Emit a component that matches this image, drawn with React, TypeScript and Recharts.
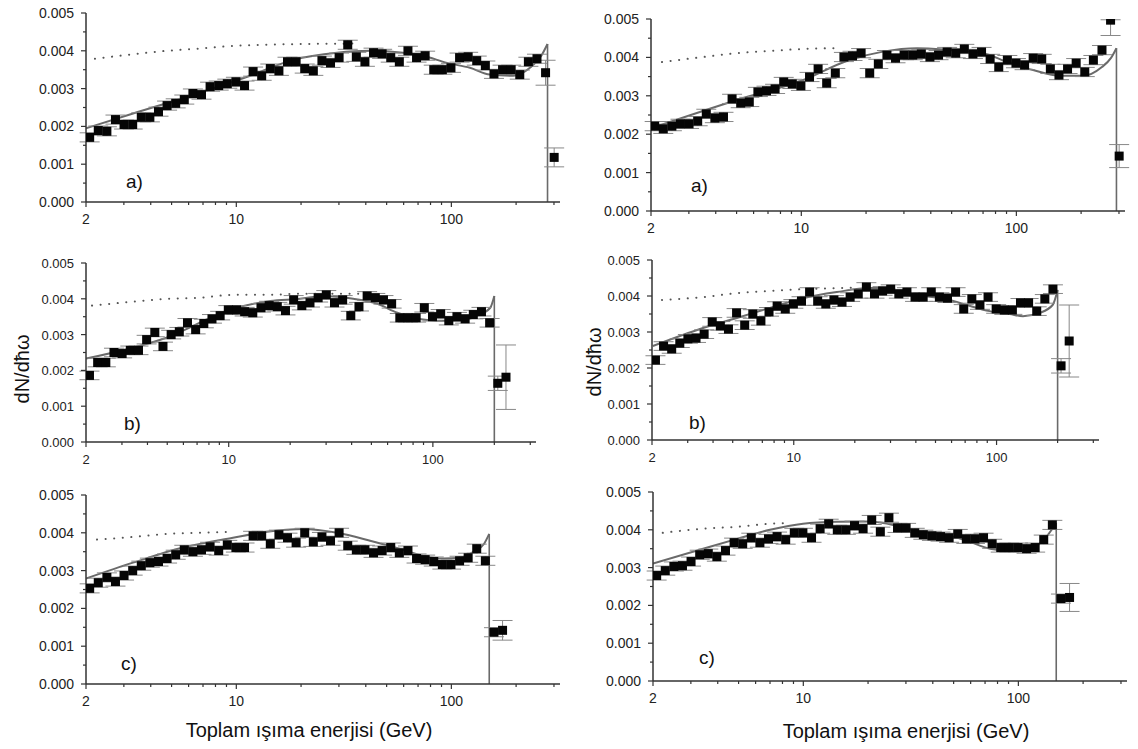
import React from "react";
import { ComposedChart, XAxis, YAxis, Scatter, Line, ErrorBar, ReferenceLine } from "recharts";

const FONT = '"Liberation Sans", Arial, Helvetica, sans-serif';
const AXIS = "#333";
const CURVE = "#6a6a6a";

// energy bins (GeV), equal steps in log, shared by all panels
const BIN_E = [
  2.08, 2.281, 2.501, 2.742, 3.006, 3.297, 3.615, 3.963, 4.346, 4.765,
  5.225, 5.729, 6.282, 6.888, 7.552, 8.281, 9.08, 9.956, 10.92, 11.97,
  13.12, 14.39, 15.78, 17.3, 18.97, 20.8, 22.81, 25.01, 27.42, 30.06,
  32.97, 36.15, 39.63, 43.46, 47.65, 52.25, 57.29, 62.82, 68.88, 75.52,
  82.81, 90.8, 99.56, 109.2, 119.7, 131.2, 143.9, 157.8, 173.0, 189.7,
  208.0, 228.1, 250.1, 274.2, 300.6,
];

const X_TICKS = [2, 3, 4, 5, 6, 7, 8, 9, 10, 20, 30, 40, 50, 60, 70, 80, 90, 100, 200, 300];
const X_LABELS = [2, 10, 100];
const Y_TICKS = [0, 0.0005, 0.001, 0.0015, 0.002, 0.0025, 0.003, 0.0035, 0.004, 0.0045, 0.005];
const X_MAX = 320;
const DEFAULT_ERR = 0.00012;

// a) left
const aLeftY = [
  0.00171, 0.00189, 0.00187, 0.00218, 0.00205, 0.00205, 0.00224, 0.00224, 0.00239, 0.00255,
  0.00261, 0.00271, 0.00287, 0.00284, 0.00305, 0.00308, 0.00313, 0.00318, 0.00308, 0.00345,
  0.00334, 0.00353, 0.00347, 0.00371, 0.00371, 0.00353, 0.00347, 0.00374, 0.00368, 0.00382,
  0.00416, 0.00384, 0.00371, 0.00395, 0.00392, 0.00382, 0.00371, 0.004, 0.00382, 0.00387,
  0.0035, 0.0035, 0.00355, 0.00382, 0.00384, 0.00374, 0.00361, 0.00339, 0.0035, 0.0035,
  0.00337, 0.00371, 0.00379, 0.00342, 0.00118,
];
const aLeftBigErr: [number, number | number[]][] = [[53, 0.00033], [54, 0.00025]];
const aLeftCurve = [
  [2, 0.00195], [3.31, 0.00234], [6.78, 0.00289], [11.6, 0.00334], [18.4, 0.00376],
  [29.4, 0.00395], [41.9, 0.004], [59.6, 0.00395], [73.9, 0.00387], [95.4, 0.00368],
  [122, 0.00355], [151, 0.00337], [194, 0.00334], [232, 0.00355], [262, 0.00387], [280, 0.00418],
];
const aLeftDotted = [
  [2.2, 0.00379], [3.31, 0.00391], [4.76, 0.004], [6.78, 0.00406], [9.65, 0.00413],
  [13.9, 0.00416], [19.8, 0.00418], [34.9, 0.00419],
];

// a) right
const aRightY = [
  0.00221, 0.00214, 0.00221, 0.00227, 0.00227, 0.00234, 0.00253, 0.00242, 0.00245, 0.00292,
  0.00281, 0.00284, 0.0031, 0.00313, 0.00318, 0.00336, 0.00331, 0.00326, 0.00349, 0.0037,
  0.00333, 0.00359, 0.00401, 0.00404, 0.00411, 0.00359, 0.00383, 0.00406, 0.00398, 0.00406,
  0.00406, 0.00409, 0.00401, 0.00406, 0.00414, 0.00411, 0.00422, 0.00409, 0.00414, 0.00396,
  0.00375, 0.00393, 0.00385, 0.0038, 0.00398, 0.00396, 0.0037, 0.00354, 0.0037, 0.00385,
  0.00362, 0.00393, 0.00419, 0.00497, 0.00143,
];
const aRightBigErr: [number, number | number[]][] = [[53, [0.0004, 0.00001]], [54, 0.0003]];
const aRightCurve = [
  [2.02, 0.00216], [5.02, 0.00289], [10.2, 0.00341], [16.5, 0.00392], [24.0, 0.00415],
  [34.5, 0.00424], [49.2, 0.00419], [70.0, 0.00411], [90.6, 0.00388], [119.6, 0.00367],
  [159.7, 0.00352], [204, 0.00352], [250, 0.00375], [275, 0.00398], [292, 0.00424],
];
const aRightDotted = [
  [2.25, 0.00388], [3.49, 0.00401], [5.0, 0.00411], [7.2, 0.00417], [10.2, 0.00422], [14.6, 0.00424],
];

// b) left
const bLeftY = [
  0.00186, 0.00222, 0.00222, 0.0025, 0.00247, 0.00256, 0.00256, 0.00286, 0.00306, 0.00267,
  0.003, 0.00308, 0.00333, 0.00314, 0.00331, 0.00344, 0.00353, 0.00369, 0.00369, 0.00364,
  0.00361, 0.00375, 0.00381, 0.00378, 0.00367, 0.00397, 0.00381, 0.00389, 0.00403, 0.00411,
  0.00389, 0.00397, 0.00353, 0.00378, 0.00408, 0.00403, 0.00397, 0.00386, 0.00347, 0.00347,
  0.00347, 0.00375, 0.0035, 0.00358, 0.00339, 0.0035, 0.00344, 0.00356, 0.00364, 0.00333,
  0.00164, 0.00181,
];
const bLeftBigErr: [number, number | number[]][] = [[50, 0.0002], [51, 0.0009]];
const bLeftCurve = [
  [2, 0.00233], [4.99, 0.00292], [10.5, 0.00372], [15.96, 0.00394], [22.4, 0.004],
  [29.0, 0.00408], [40.7, 0.004], [53.4, 0.00386], [67.0, 0.00361], [83.9, 0.00344],
  [105, 0.00339], [136, 0.00339], [165, 0.00353], [191, 0.00375], [200, 0.00408],
];
const bLeftDotted = [
  [2.14, 0.00381], [3.39, 0.00392], [4.99, 0.004], [7.2, 0.00403], [10.5, 0.00411],
  [15.4, 0.00411], [22.4, 0.00414], [44, 0.00414],
];

// b) right
const bRightY = [
  0.00222, 0.00261, 0.00253, 0.00269, 0.00281, 0.00283, 0.00294, 0.00328, 0.00317, 0.00308,
  0.00353, 0.00319, 0.0035, 0.00331, 0.00356, 0.00372, 0.00364, 0.00378, 0.00386, 0.00411,
  0.00386, 0.00378, 0.00389, 0.00383, 0.00397, 0.00406, 0.00425, 0.00406, 0.00414, 0.00419,
  0.00406, 0.00411, 0.00397, 0.00397, 0.00411, 0.00397, 0.00394, 0.00411, 0.00364, 0.00392,
  0.00375, 0.00397, 0.00364, 0.00361, 0.00361, 0.00381, 0.00381, 0.00358, 0.00392, 0.00419,
  0.00206, 0.00275,
];
const bRightBigErr: [number, number | number[]][] = [[50, 0.0002], [51, 0.001]];
const bRightCurve = [
  [2.02, 0.00261], [3.57, 0.00311], [5.24, 0.00339], [7.62, 0.00367], [11.1, 0.00394],
  [16.3, 0.00411], [23.7, 0.00422], [27.5, 0.00422], [40.4, 0.00403], [58.8, 0.00389],
  [71.3, 0.00375], [92.5, 0.00358], [116, 0.0035], [135, 0.00344], [163, 0.00353],
  [189, 0.00375], [200, 0.00417],
];
const bRightDotted = [
  [2.24, 0.00389], [3.57, 0.00397], [5.24, 0.00408], [7.62, 0.00414], [11.1, 0.00419],
  [16.3, 0.00422], [20, 0.00423],
];

// c) left
const cLeftY = [
  0.00253, 0.00268, 0.00282, 0.00271, 0.00287, 0.003, 0.00313, 0.00321, 0.00324, 0.00332,
  0.00342, 0.00355, 0.0035, 0.00355, 0.00363, 0.00353, 0.00368, 0.00361, 0.00361, 0.00392,
  0.00392, 0.00371, 0.00395, 0.00387, 0.00374, 0.004, 0.00376, 0.00389, 0.00379, 0.004,
  0.00366, 0.00355, 0.00355, 0.00347, 0.00353, 0.00361, 0.00347, 0.00353, 0.00332, 0.00329,
  0.00324, 0.00316, 0.00316, 0.00326, 0.00334, 0.00358, 0.00326, 0.00137, 0.00142,
];
const cLeftBigErr: [number, number | number[]][] = [[47, 0.00012], [48, 0.00026]];
const cLeftCurve = [
  [2, 0.00279], [3.31, 0.00321], [5.64, 0.00361], [9.65, 0.00387], [13.9, 0.00403],
  [20.5, 0.0041], [29.4, 0.004], [41.9, 0.00379], [59.6, 0.00355], [73.9, 0.00339],
  [91.8, 0.00332], [110, 0.00334], [127, 0.0035], [142, 0.00371], [150, 0.00397],
];
const cLeftDotted = [
  [2.25, 0.00382], [3.31, 0.00389], [4.76, 0.00397], [6.78, 0.004], [9.65, 0.00403],
];

// c) right
const cRightY = [
  0.00279, 0.00292, 0.00303, 0.00305, 0.00316, 0.00334, 0.00337, 0.00329, 0.00345, 0.00366,
  0.00363, 0.00379, 0.00366, 0.00376, 0.00382, 0.00374, 0.00392, 0.00392, 0.00379, 0.00403,
  0.00416, 0.004, 0.004, 0.00411, 0.00403, 0.00426, 0.00395, 0.00432, 0.00405, 0.00405,
  0.00392, 0.00387, 0.00384, 0.00382, 0.00379, 0.00389, 0.00376, 0.00376, 0.00379, 0.00363,
  0.00353, 0.00353, 0.00353, 0.0035, 0.00353, 0.00374, 0.00413, 0.00218, 0.00221,
];
const cRightBigErr: [number, number | number[]][] = [[47, 0.00012], [48, 0.00037]];
const cRightCurve = [
  [2, 0.00311], [3.42, 0.0035], [4.92, 0.00376], [7.0, 0.004], [9.97, 0.00416],
  [14.4, 0.00421], [20.4, 0.00422], [23.5, 0.00418], [33.8, 0.00397], [48.1, 0.00384],
  [57.7, 0.00371], [73.9, 0.0035], [91.4, 0.00345], [110, 0.00347], [122, 0.00358],
  [136, 0.00384], [150, 0.00418],
];
const cRightDotted = [
  [2.22, 0.00392], [3.42, 0.00403], [4.92, 0.00408], [7.0, 0.00416], [8.4, 0.00418],
];

type PanelCfg = {
  axisX: number;
  top: number;
  bottom: number;
  decade: number;
  font: number;
  values: number[];
  bigErr: [number, number | number[]][];
  curve: number[][];
  dotted: number[][];
  cut: number;
};

const PANELS: PanelCfg[] = [
  { axisX: 86, top: 13, bottom: 202, decade: 215, font: 14, values: aLeftY, bigErr: aLeftBigErr, curve: aLeftCurve, dotted: aLeftDotted, cut: 280 },
  { axisX: 651, top: 19, bottom: 211, decade: 215, font: 14, values: aRightY, bigErr: aRightBigErr, curve: aRightCurve, dotted: aRightDotted, cut: 292 },
  { axisX: 86, top: 263, bottom: 442, decade: 204, font: 13, values: bLeftY, bigErr: bLeftBigErr, curve: bLeftCurve, dotted: bLeftDotted, cut: 200 },
  { axisX: 652, top: 260, bottom: 440, decade: 203, font: 13, values: bRightY, bigErr: bRightBigErr, curve: bRightCurve, dotted: bRightDotted, cut: 200 },
  { axisX: 86, top: 495, bottom: 684, decade: 215, font: 14, values: cLeftY, bigErr: cLeftBigErr, curve: cLeftCurve, dotted: cLeftDotted, cut: 150 },
  { axisX: 653, top: 492, bottom: 681, decade: 215, font: 14, values: cRightY, bigErr: cRightBigErr, curve: cRightCurve, dotted: cRightDotted, cut: 150 },
];

const PANEL_LABELS = [
  { text: "a)", x: 126, y: 188 },
  { text: "a)", x: 691, y: 192 },
  { text: "b)", x: 124, y: 430 },
  { text: "b)", x: 689, y: 429 },
  { text: "c)", x: 121, y: 670 },
  { text: "c)", x: 699, y: 664 },
];

const YW = 70;
const MT = 10;
const MR = 12;
const XH = 30;

const XTick = (props: any) => {
  const { x, y, payload, labelSize } = props;
  const v = payload.value;
  const major = X_LABELS.includes(v);
  return (
    <g>
      <line x1={x} x2={x} y1={y} y2={y + (major ? 5 : 3)} stroke={AXIS} strokeWidth={1.2} />
      {major ? (
        <text x={x} y={y + 22} textAnchor="middle" fontSize={labelSize} fontFamily={FONT} fill="#222">
          {v}
        </text>
      ) : null}
    </g>
  );
};

const YTick = (props: any) => {
  const { x, y, payload, labelSize } = props;
  const v = payload.value;
  const major = Math.round(v * 10000) % 10 === 0;
  return (
    <g>
      <line x1={x} x2={x - (major ? 5 : 3)} y1={y} y2={y} stroke={AXIS} strokeWidth={1.2} />
      {major ? (
        <text x={x - 12} y={y + 5} textAnchor="end" fontSize={labelSize} fontFamily={FONT} fill="#222">
          {v.toFixed(3)}
        </text>
      ) : null}
    </g>
  );
};

const Square = (props: any) => {
  const { cx, cy } = props;
  if (cx == null || cy == null) return null;
  return <rect x={cx - 4.5} y={cy - 4.5} width={9} height={9} fill="#050505" />;
};

function Panel({ cfg }: { cfg: PanelCfg }) {
  const plotW = Math.round(cfg.decade * Math.log10(X_MAX / 2));
  const plotH = cfg.bottom - cfg.top;
  const points = cfg.values.map((y, i) => {
    const big = cfg.bigErr.find(([k]) => k === i);
    return { x: BIN_E[i], y, err: big ? big[1] : DEFAULT_ERR };
  });
  const curve = cfg.curve.map(([x, y]) => ({ x, y }));
  const dotted = cfg.dotted.map(([x, y]) => ({ x, y }));
  const cutTop = cfg.curve[cfg.curve.length - 1][1];

  return (
    <div style={{ position: "absolute", left: cfg.axisX - YW, top: cfg.top - MT }}>
      <ComposedChart
        width={YW + plotW + MR}
        height={MT + plotH + XH}
        margin={{ top: MT, right: MR, left: 0, bottom: 0 }}
      >
        <XAxis
          type="number"
          dataKey="x"
          scale="log"
          domain={[2, X_MAX]}
          allowDataOverflow
          ticks={X_TICKS}
          interval={0}
          tick={<XTick labelSize={cfg.font} />}
          tickLine={false}
          tickSize={0}
          tickMargin={0}
          height={XH}
          axisLine={{ stroke: AXIS, strokeWidth: 1.5 }}
        />
        <YAxis
          type="number"
          domain={[0, 0.005]}
          allowDataOverflow
          ticks={Y_TICKS}
          interval={0}
          tick={<YTick labelSize={cfg.font} />}
          tickLine={false}
          tickSize={0}
          tickMargin={0}
          width={YW}
          axisLine={{ stroke: AXIS, strokeWidth: 1.5 }}
        />
        <Line
          data={dotted}
          dataKey="y"
          type="monotone"
          stroke="#555"
          strokeWidth={2}
          strokeDasharray="0.1 8.5"
          strokeLinecap="round"
          dot={false}
          isAnimationActive={false}
        />
        <Line
          data={curve}
          dataKey="y"
          type="monotone"
          stroke={CURVE}
          strokeWidth={2}
          dot={false}
          isAnimationActive={false}
        />
        <ReferenceLine
          segment={[
            { x: cfg.cut, y: 0 },
            { x: cfg.cut, y: cutTop },
          ]}
          stroke={CURVE}
          strokeWidth={1.6}
        />
        <Scatter data={points} dataKey="y" shape={<Square />} isAnimationActive={false}>
          <ErrorBar dataKey="err" direction="y" width={10} stroke="#888" strokeWidth={1} />
        </Scatter>
      </ComposedChart>
    </div>
  );
}

export default function App() {
  return (
    <div
      style={{
        position: "absolute",
        left: 0,
        top: 0,
        width: 1138,
        height: 749,
        background: "#fff",
        overflow: "hidden",
        fontFamily: FONT,
      }}
    >
      {PANELS.map((cfg, i) => (
        <Panel key={i} cfg={cfg} />
      ))}
      <svg
        width={1138}
        height={749}
        style={{ position: "absolute", left: 0, top: 0, pointerEvents: "none" }}
      >
        {PANEL_LABELS.map((l, i) => (
          <text key={i} x={l.x} y={l.y} fontSize={19} fontFamily={FONT} fill="#111">
            {l.text}
          </text>
        ))}
        <text
          transform="translate(29, 369) rotate(-90)"
          textAnchor="middle"
          fontSize={20}
          fontFamily={FONT}
          fill="#111"
        >
          dN/dħω
        </text>
        <text
          transform="translate(601, 362) rotate(-90)"
          textAnchor="middle"
          fontSize={20}
          fontFamily={FONT}
          fill="#111"
        >
          dN/dħω
        </text>
        <text x={309} y={737} textAnchor="middle" fontSize={20} fontFamily={FONT} fill="#111">
          Toplam ışıma enerjisi (GeV)
        </text>
        <text x={906} y={738} textAnchor="middle" fontSize={20} fontFamily={FONT} fill="#111">
          Toplam ışıma enerjisi (GeV)
        </text>
      </svg>
    </div>
  );
}
